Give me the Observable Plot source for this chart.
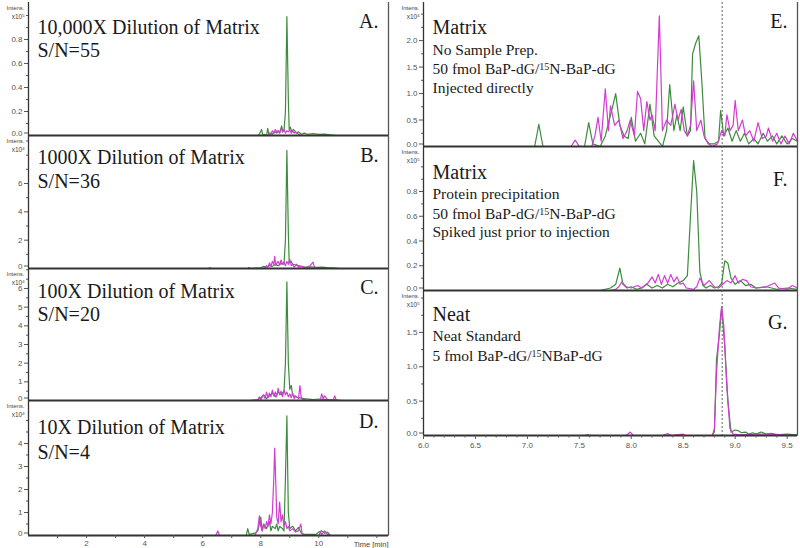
<!DOCTYPE html>
<html><head><meta charset="utf-8">
<script src="https://cdn.jsdelivr.net/npm/d3@7"></script>
<script src="https://cdn.jsdelivr.net/npm/@observablehq/plot@0.6"></script>
<style>
html,body{margin:0;padding:0;background:#fff;}
#chart{position:relative;width:800px;height:548px;overflow:hidden;background:#fff;}
</style></head><body><div id="chart"></div>
<script>
// ---------------- DATA ----------------
const leftXDomain = [0, 12.4];
const rightXDomain = [6.0, 9.6];
const markerTime = 8.875;
const leftXTicks = [2, 4, 6, 8, 10];
const leftXMinor = [1, 3, 5, 7, 9, 11, 12];
const rightXTicks = [6.0, 6.5, 7.0, 7.5, 8.0, 8.5, 9.0, 9.5];
const rightXMinor = [6.1,6.2,6.3,6.4,6.6,6.7,6.8,6.9,7.1,7.2,7.3,7.4,7.6,7.7,7.8,7.9,8.1,8.2,8.3,8.4,8.6,8.7,8.8,8.9,9.1,9.2,9.3,9.4];

const leftTitles = ["10,000X Dilution of Matrix", "1000X Dilution of Matrix", "100X Dilution of Matrix", "10X Dilution of Matrix"];
const leftSN = ["S/N=55", "S/N=36", "S/N=20", "S/N=4"];
const panelLetters = ["A.", "B.", "C.", "D.", "E.", "F.", "G."];
const rightTitles = ["Matrix", "Matrix", "Neat"];
const rightNotes = [
  ["No Sample Prep.", "50 fmol BaP-dG/{15}N-BaP-dG", "Injected directly"],
  ["Protein precipitation", "50 fmol BaP-dG/{15}N-BaP-dG", "Spiked just prior to injection"],
  ["Neat Standard", "5 fmol BaP-dG/{15}NBaP-dG"]
];
const exponents = ["5", "4", "4", "4", "4", "5", "5"];

// y tick values per panel
const yTicksA = [0.2, 0.4, 0.6, 0.8];
const yTicksB = [2, 4, 6];
const yTicksC = [1, 2, 3, 4, 5, 6];
const yTicksD = [1, 2, 3, 4];
const yTicksE = [0.5, 1.0, 1.5, 2.0];
const yTicksF = [0.2, 0.4, 0.6, 0.8];
const yTicksG = [0.5, 1.0, 1.5];
const yZeroTick = [0];
const yMinorA = [0.1, 0.3, 0.5, 0.7, 0.9, 1.0];
const yMinorB = [1, 3, 5, 7, 8, 9];
const yMinorC = [0.5, 1.5, 2.5, 3.5, 4.5, 5.5, 6.5, 7];
const yMinorD = [0.5, 1.5, 2.5, 3.5, 4.5, 5];
const yMinorE = [0.25, 0.75, 1.25, 1.75, 2.25, 2.5];
const yMinorF = [0.1, 0.3, 0.5, 0.7, 0.9, 1.0];
const yMinorG = [0.25, 0.75, 1.25, 1.75, 2.0];

// chromatogram traces: [time (min), intensity in panel units]
const aGreen = [[0,0],[7.9,0],[7.95,0.01],[8.03,0.05],[8.07,0.0],[8.12,0.01],[8.2,0.0],[8.24,0.06],[8.28,0.01],[8.35,0.02],[8.4,0.01],[8.5,0.03],[8.55,0.02],[8.6,0.04],[8.65,0.02],[8.72,0.08],[8.76,0.03],[8.8,0.04],[8.85,0.2],[8.9,0.99],[8.95,0.3],[8.98,0.05],[9.02,0.07],[9.07,0.03],[9.12,0.05],[9.17,0.04],[9.22,0.02],[9.3,0.03],[9.4,0.01],[9.5,0.02],[9.6,0.01],[9.8,0.015],[10.0,0.01],[10.2,0.012],[10.4,0.005],[10.6,0],[12.4,0]];
const aMagenta = [[0,0],[8.25,0],[8.3,0.02],[8.35,0.01],[8.4,0.04],[8.45,0.02],[8.5,0.05],[8.55,0.03],[8.6,0.04],[8.65,0.02],[8.7,0.06],[8.75,0.03],[8.8,0.05],[8.85,0.02],[8.9,0.04],[8.95,0.03],[9.0,0.05],[9.05,0.02],[9.1,0.04],[9.15,0.02],[9.2,0.03],[9.3,0.01],[9.4,0],[12.4,0]];

const bGreen = [[0,0],[6.2,0],[6.25,0.06],[6.3,0],[7.55,0],[7.6,0.08],[7.65,0],[8.0,0.05],[8.1,0.15],[8.2,0.1],[8.3,0.2],[8.4,0.15],[8.5,0.3],[8.6,0.2],[8.7,0.35],[8.8,0.3],[8.85,2.0],[8.9,8.35],[8.95,2.5],[8.98,0.4],[9.05,0.5],[9.1,0.3],[9.2,0.25],[9.3,0.2],[9.4,0.15],[9.5,0.1],[9.7,0.12],[9.9,0.08],[10.1,0.1],[10.3,0.06],[10.5,0.05],[10.7,0],[12.4,0]];
const bMagenta = [[0,0],[8.1,0],[8.2,0.2],[8.25,0.1],[8.3,0.4],[8.35,0.15],[8.4,0.5],[8.45,0.3],[8.48,0.85],[8.52,0.2],[8.56,0.4],[8.6,0.5],[8.65,0.25],[8.7,0.6],[8.75,0.3],[8.8,0.45],[8.85,0.2],[8.9,0.5],[8.95,0.3],[9.0,0.65],[9.05,0.2],[9.1,0.3],[9.15,0.1],[9.24,0.3],[9.3,0.1],[9.4,0.15],[9.5,0.05],[9.6,0.1],[9.7,0.2],[9.8,0.45],[9.85,0.1],[9.9,0.05],[10.0,0],[12.4,0]];

const cGreen = [[0,0],[7.6,0],[7.9,0.05],[8.0,0.15],[8.1,0.3],[8.2,0.1],[8.3,0.25],[8.4,0.4],[8.5,0.2],[8.6,0.45],[8.7,0.3],[8.8,0.5],[8.85,2.0],[8.9,6.35],[8.95,2.0],[9.0,0.6],[9.05,0.8],[9.1,0.3],[9.2,0.2],[9.3,0.15],[9.5,0.1],[9.8,0.05],[10.0,0.08],[10.3,0.05],[10.6,0.03],[10.8,0],[12.4,0]];
const cMagenta = [[0,0],[7.9,0],[7.95,0.2],[8.0,0.05],[8.1,0.3],[8.15,0.1],[8.2,0.45],[8.25,0.15],[8.3,0.4],[8.35,0.2],[8.4,0.55],[8.45,0.25],[8.5,0.45],[8.55,0.2],[8.6,0.65],[8.65,0.3],[8.7,0.5],[8.75,0.2],[8.8,0.55],[8.85,0.3],[8.9,0.45],[8.95,0.2],[9.0,0.35],[9.05,0.15],[9.1,0.4],[9.15,0.1],[9.2,0.25],[9.3,0.1],[9.35,0.8],[9.4,0.1],[9.5,0.05],[9.6,0],[10.05,0],[10.1,0.35],[10.15,0.1],[10.2,0.25],[10.3,0.05],[10.5,0.05],[10.55,0.25],[10.6,0],[12.4,0]];

const dGreen = [[0,0],[7.5,0],[7.55,0.3],[7.6,0.05],[7.8,0.1],[7.9,0.2],[8.0,0.8],[8.05,0.2],[8.1,0.5],[8.2,0.3],[8.3,0.6],[8.35,0.2],[8.4,0.4],[8.5,0.3],[8.55,0.5],[8.6,0.2],[8.65,0.4],[8.7,0.35],[8.75,0.3],[8.8,0.2],[8.85,2.5],[8.9,5.2],[8.95,1.0],[9.0,0.3],[9.1,0.4],[9.2,0.2],[9.3,0.35],[9.4,0.1],[9.5,0.05],[9.9,0.05],[10.0,0.15],[10.1,0.2],[10.2,0.1],[10.3,0.15],[10.4,0],[12.4,0]];
const dMagenta = [[0,0],[6.45,0],[6.52,0.2],[6.58,0],[7.8,0],[7.9,0.3],[7.95,0.85],[8.0,0.4],[8.05,0.2],[8.1,0.5],[8.15,0.3],[8.2,0.6],[8.25,0.4],[8.3,0.9],[8.35,0.5],[8.4,1.0],[8.45,2.5],[8.48,3.8],[8.52,2.2],[8.55,0.8],[8.6,0.5],[8.65,1.45],[8.7,0.6],[8.75,0.9],[8.8,0.4],[8.85,0.6],[8.9,0.3],[8.95,0.4],[9.0,0.2],[9.1,0.3],[9.2,0.15],[9.3,0.2],[9.38,0.5],[9.42,0.1],[9.5,0],[10.0,0],[10.05,0.15],[10.1,0.05],[10.2,0.2],[10.3,0.05],[10.4,0],[12.4,0]];

const eGreen = [[6.0,0],[7.07,0],[7.11,0.42],[7.15,0],[7.55,0],[7.59,0.45],[7.63,0.05],[7.7,0],[7.75,0.2],[7.8,0.6],[7.82,0.75],[7.85,1.0],[7.89,0.4],[7.93,0.2],[7.97,0.15],[8.0,0.55],[8.04,0.1],[8.09,0.25],[8.13,0.05],[8.18,0.8],[8.22,0.2],[8.26,0.1],[8.3,0],[8.34,0.3],[8.37,1.17],[8.41,0.3],[8.44,0.6],[8.47,0.3],[8.5,0.75],[8.54,0.2],[8.57,0.3],[8.59,1.75],[8.62,1.95],[8.65,2.09],[8.68,1.2],[8.71,0.15],[8.75,0.05],[8.8,0.05],[8.84,0.1],[8.86,0.68],[8.89,0.2],[8.93,0.35],[8.97,0.1],[9.01,0.3],[9.05,0.1],[9.09,0.25],[9.13,0.05],[9.18,0.15],[9.22,0.05],[9.27,0.25],[9.31,0.1],[9.36,0.2],[9.4,0.05],[9.45,0.2],[9.5,0.05],[9.55,0.15],[9.6,0.1]];
const eMagenta = [[6.0,0],[7.42,0],[7.46,0.12],[7.5,0],[7.62,0],[7.65,0.2],[7.68,0.55],[7.71,0.1],[7.75,1.09],[7.78,0.3],[7.8,0.77],[7.84,0.4],[7.88,0.5],[7.92,0.15],[7.96,0.3],[7.99,0.5],[8.03,0.2],[8.06,1.04],[8.09,0.9],[8.12,0.3],[8.15,0.85],[8.18,0.5],[8.2,0.6],[8.23,0.3],[8.27,2.47],[8.3,0.3],[8.34,0.5],[8.38,0.4],[8.42,0.8],[8.45,0.5],[8.48,0.7],[8.51,0.3],[8.54,0.2],[8.57,0.4],[8.6,1.24],[8.63,0.3],[8.67,0.5],[8.7,0.2],[8.74,0.05],[8.78,0],[8.83,0.05],[8.87,0.3],[8.9,0.2],[8.92,0.6],[8.95,0.3],[8.98,0.4],[9.0,0.87],[9.03,0.3],[9.07,0.5],[9.1,0.2],[9.14,0.3],[9.18,0.1],[9.22,0.45],[9.26,0.15],[9.3,0.2],[9.32,0.35],[9.36,0.1],[9.4,0.25],[9.44,0.05],[9.48,0.2],[9.52,0.05],[9.56,0.25],[9.6,0.1]];

const fGreen = [[6.0,0],[7.7,0],[7.75,0.01],[7.8,0.02],[7.85,0.05],[7.89,0.18],[7.92,0.05],[7.96,0.02],[8.0,0.03],[8.05,0.01],[8.1,0.02],[8.15,0.05],[8.2,0.02],[8.25,0.04],[8.3,0.02],[8.35,0.05],[8.4,0.03],[8.45,0.06],[8.5,0.08],[8.54,0.12],[8.57,0.6],[8.6,1.05],[8.63,0.8],[8.66,0.15],[8.69,0.04],[8.72,0.02],[8.76,0.04],[8.8,0.02],[8.84,0.03],[8.87,0.06],[8.9,0.24],[8.93,0.22],[8.96,0.1],[9.0,0.05],[9.05,0.08],[9.1,0.04],[9.15,0.05],[9.2,0.02],[9.3,0.03],[9.4,0.01],[9.5,0.02],[9.6,0.01]];
const fMagenta = [[6.0,0],[7.8,0],[7.85,0.01],[7.88,0.03],[7.91,0.07],[7.95,0.03],[8.0,0.02],[8.06,0.04],[8.1,0.02],[8.16,0.06],[8.2,0.11],[8.23,0.06],[8.26,0.13],[8.29,0.05],[8.32,0.12],[8.35,0.06],[8.38,0.13],[8.41,0.07],[8.44,0.11],[8.47,0.05],[8.5,0.06],[8.53,0.02],[8.6,0.01],[8.63,0.03],[8.66,0.1],[8.7,0.04],[8.75,0.08],[8.8,0.03],[8.84,0.02],[8.88,0.05],[8.92,0.08],[8.96,0.06],[9.0,0.12],[9.03,0.06],[9.07,0.09],[9.11,0.08],[9.15,0.03],[9.2,0.02],[9.3,0.03],[9.38,0.06],[9.42,0.02],[9.5,0.01],[9.55,0.04],[9.6,0.02]];

const gGreen = [[6.0,0],[7.55,0],[7.58,0.01],[7.62,0],[8.78,0],[8.8,0.05],[8.82,1.1],[8.85,1.5],[8.87,1.86],[8.9,1.3],[8.93,0.5],[8.96,0.05],[9.0,0.08],[9.03,0.07],[9.06,0.04],[9.1,0.05],[9.13,0.02],[9.17,0.04],[9.2,0.02],[9.25,0.05],[9.3,0.02],[9.35,0.03],[9.4,0.01],[9.5,0.02],[9.6,0.01]];
const gMagenta = [[6.0,0],[7.95,0],[7.99,0.05],[8.02,0],[8.3,0],[8.35,0.03],[8.38,0],[8.5,0.02],[8.52,0],[8.78,0],[8.8,0.1],[8.82,0.9],[8.85,1.6],[8.87,1.88],[8.89,1.6],[8.92,0.7],[8.95,0.1],[8.98,0.02],[9.05,0.01],[9.2,0.02],[9.35,0.02],[9.6,0]];

// ---------------- STYLE / LAYOUT ----------------
const GREEN = "#3c8c3c";
const MAGENTA = "#d23cd2";
const AXIS = "#333";
const SERIF = "'Liberation Serif', 'Times New Roman', serif";
const SANS = "'Liberation Sans', Arial, sans-serif";
const fmt1 = d3.format(".1f");
const fmt0 = d3.format("d");

const panels = [
  {col:"L", top:2,   bottom:135, yMax:1.108, yTicks:yTicksA, yMinor:yMinorA, fmt:fmt1, green:aGreen, magenta:aMagenta, idx:0, titleDy:31, snDy:54, letterDy:25},
  {col:"L", top:135, bottom:268, yMax:9.39,  yTicks:yTicksB, yMinor:yMinorB, fmt:fmt0, green:bGreen, magenta:bMagenta, idx:1, titleDy:28, snDy:52, letterDy:26},
  {col:"L", top:268, bottom:400, yMax:7.07,  yTicks:yTicksC, yMinor:yMinorC, fmt:fmt0, green:cGreen, magenta:cMagenta, idx:2, titleDy:29, snDy:52, letterDy:25},
  {col:"L", top:400, bottom:535, yMax:5.87,  yTicks:yTicksD, yMinor:yMinorD, fmt:fmt0, green:dGreen, magenta:dMagenta, idx:3, titleDy:33, snDy:58, letterDy:27, xAxis:true},
  {col:"R", top:2,   bottom:146, yMax:2.72,  yTicks:yTicksE, yMinor:yMinorE, fmt:fmt1, green:eGreen, magenta:eMagenta, idx:4, r:0, titleDy:31, noteDy:[52,71,90], letterDy:25},
  {col:"R", top:146, bottom:290, yMax:1.164, yTicks:yTicksF, yMinor:yMinorF, fmt:fmt1, green:fGreen, magenta:fMagenta, idx:5, r:1, titleDy:32, noteDy:[52,72,90], letterDy:39},
  {col:"R", top:290, bottom:435, yMax:2.11,  yTicks:yTicksG, yMinor:yMinorG, fmt:fmt1, green:gGreen, magenta:gMagenta, idx:6, r:2, titleDy:30, noteDy:[50,70], letterDy:38, xAxis:true}
];

const container = document.getElementById("chart");

function txt(s, o) {
  return Plot.text([s], Object.assign({text: d => d, lineAnchor: "bottom"}, o));
}

for (const p of panels) {
  const left = p.col === "L";
  const xDomain = left ? leftXDomain : rightXDomain;
  const svgLeft = left ? 0 : 395;
  const svgWidth = left ? 400 : 405;
  const mr = left ? 12 : 3;
  const mt = 2, mb = p.xAxis ? 16 : 2;
  const height = mt + (p.bottom - p.top) + mb;
  const marks = [];

  if (!left) marks.push(Plot.ruleX([markerTime], {stroke: "#555", strokeWidth: 0.9, strokeDasharray: "2,2"}));
  marks.push(Plot.line(p.green, {x: d => d[0], y: d => d[1], stroke: GREEN, strokeWidth: 1.2}));
  marks.push(Plot.line(p.magenta, {x: d => d[0], y: d => d[1], stroke: MAGENTA, strokeWidth: 1.2}));

  // frame lines
  marks.push(Plot.ruleX([xDomain[0]], {stroke: AXIS, strokeWidth: 1.3}));
  marks.push(Plot.ruleX([xDomain[1]], {stroke: "#555", strokeWidth: 1.3}));
  marks.push(Plot.ruleY([0], {stroke: AXIS, strokeWidth: 1.8}));

  // y axis
  const f = p.fmt;
  marks.push(Plot.axisY({ticks: p.yTicks, tickSize: 4, tickPadding: 2, tickFormat: f, fontSize: 8, color: "#555", label: null, anchor: "left"}));
  marks.push(Plot.axisY({ticks: yZeroTick, tickSize: 4, tickPadding: 2, tickFormat: f, fontSize: 8, dy: -2.5, color: "#555", label: null, anchor: "left"}));
  marks.push(Plot.axisY({ticks: p.yMinor, tickSize: 2, tickPadding: 2, tickFormat: () => "", color: "#555", label: null, anchor: "left"}));
  marks.push(txt("Intens.", {frameAnchor: "top-left", dx: -4, dy: 7.5, textAnchor: "end", fontSize: 6, fill: "#444"}));
  marks.push(txt("x10{" + exponents[p.idx] + "}", {frameAnchor: "top-left", dx: -4, dy: 16, textAnchor: "end", fontSize: 6.5, fill: "#444"}));

  // x axis
  if (p.xAxis && left) {
    marks.push(Plot.axisX({ticks: leftXMinor, tickSize: 3, tickFormat: () => "", color: "#555", label: null, anchor: "bottom"}));
    marks.push(Plot.axisX({ticks: leftXTicks, tickSize: 3, tickPadding: 2, tickFormat: fmt0, fontSize: 8, color: "#555", label: null, anchor: "bottom"}));
    marks.push(Plot.text(["Time [min]"], {text: d => d, frameAnchor: "bottom-right", dy: 9, textAnchor: "end", lineAnchor: "middle", fontSize: 7.5, fill: "#444"}));
  }
  if (p.xAxis && !left) {
    marks.push(Plot.axisX({ticks: rightXMinor, tickSize: 2.5, tickFormat: () => "", color: "#555", label: null, anchor: "bottom"}));
    marks.push(Plot.axisX({ticks: rightXTicks, tickSize: 4, tickPadding: 3, tickFormat: fmt1, fontSize: 8, color: "#555", label: null, anchor: "bottom"}));
  }

  // annotations
  if (left) {
    marks.push(txt(leftTitles[p.idx], {frameAnchor: "top-left", dx: 9, dy: p.titleDy, textAnchor: "start", fontSize: 20, fontFamily: SERIF, fill: "#1a1a1a"}));
    marks.push(txt(leftSN[p.idx], {frameAnchor: "top-left", dx: 9, dy: p.snDy, textAnchor: "start", fontSize: 20, fontFamily: SERIF, fill: "#1a1a1a"}));
  } else {
    marks.push(txt(rightTitles[p.r], {frameAnchor: "top-left", dx: 9, dy: p.titleDy, textAnchor: "start", fontSize: 20, fontFamily: SERIF, fill: "#1a1a1a"}));
    rightNotes[p.r].forEach((s, i) => {
      marks.push(txt(s, {frameAnchor: "top-left", dx: 9, dy: p.noteDy[i], textAnchor: "start", fontSize: 15.5, fontFamily: SERIF, fill: "#1a1a1a"}));
    });
  }
  marks.push(txt(panelLetters[p.idx], {frameAnchor: "top-right", dx: -10, dy: p.letterDy, textAnchor: "end", fontSize: 20, fontFamily: SERIF, fill: "#1a1a1a"}));

  const svg = Plot.plot({
    width: svgWidth,
    height,
    marginLeft: 28, marginRight: mr, marginTop: mt, marginBottom: mb,
    x: {domain: xDomain, axis: p.xAxis ? undefined : null},
    y: {domain: [0, p.yMax]},
    style: {fontFamily: SANS, background: "transparent", overflow: "visible"},
    marks
  });

  // superscripts: "{..}" becomes a raised, smaller tspan
  d3.select(svg).selectAll("text").each(function() {
    const s = this.textContent;
    const m = s.match(/^(.*)\{(\d+)\}(.*)$/);
    if (!m) return;
    const el = d3.select(this);
    el.text(null);
    el.append("tspan").text(m[1]);
    el.append("tspan").attr("baseline-shift", "40%").attr("font-size", "65%").text(m[2]);
    if (m[3]) el.append("tspan").text(m[3]);
  });

  svg.style.position = "absolute";
  svg.style.left = svgLeft + "px";
  svg.style.top = (p.top - mt) + "px";
  svg.style.maxWidth = "none";
  container.appendChild(svg);
}
</script></body></html>
